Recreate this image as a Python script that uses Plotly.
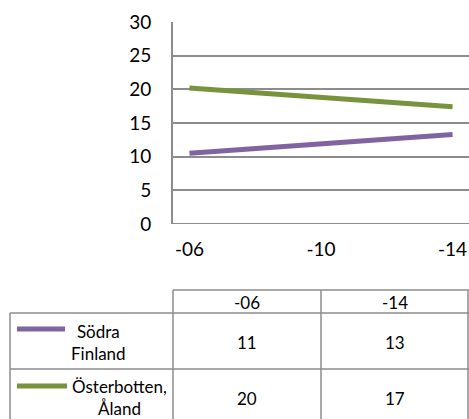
import plotly.graph_objects as go

years = [6, 14]
year_labels = ["-06", "-14"]
tick_vals = [6, 10, 14]
tick_text = ["-06", "-10", "-14"]
sodra = [10.5, 13.3]
oster = [20.2, 17.4]
sodra_table = ["11", "13"]
oster_table = ["20", "17"]
series_names = ["Södra<br>Finland", "Österbotten,<br>Åland"]

PURPLE = "#8064a2"
GREEN = "#77933c"
GRID = "#8c8c8c"
FONT = "Lato"

fig = go.Figure()
fig.add_trace(go.Scatter(x=years, y=sodra, mode="lines", hoverinfo="skip",
                         line=dict(color=PURPLE, width=5), showlegend=False))
fig.add_trace(go.Scatter(x=years, y=oster, mode="lines", hoverinfo="skip",
                         line=dict(color=GREEN, width=5), showlegend=False))

W, H = 469, 419
L = 173
T = 22
R = 0
B = H - 224
pw = W - L - R
ph = H - T - B

def px2paper_x(px):
    return (px - L) / pw

def py2paper_y(py):
    return (H - B - py) / ph

fig.update_layout(
    width=W, height=H,
    margin=dict(l=L, r=R, t=T, b=B, pad=0, autoexpand=False),
    paper_bgcolor="white", plot_bgcolor="white",
    font=dict(family=FONT, color="black"),
    xaxis=dict(range=[5.5, 14.5], tickvals=tick_vals, ticktext=tick_text,
               showgrid=False, zeroline=False, showline=False, automargin=False,
               tickfont=dict(size=19, family=FONT), ticks="",
               ticklabelstandoff=12),
    yaxis=dict(range=[0, 30], dtick=5, showgrid=True, gridcolor=GRID, gridwidth=1.5,
               zeroline=False, showline=True, linecolor=GRID, linewidth=2, automargin=False,
               tickfont=dict(size=19, family=FONT), ticks="",
               ticklabelstandoff=16),
)

shapes = []
shapes.append(dict(type="line", xref="paper", yref="y", x0=0, x1=1, y0=0, y1=0,
                   line=dict(color=GRID, width=2)))

top = 290
hdr = 313
mid = 369
bot = 440
left_tbl = 10
line_style = dict(color=GRID, width=1.5)

def hline(py, x0px, x1px):
    shapes.append(dict(type="line", xref="paper", yref="paper",
                       x0=px2paper_x(x0px), x1=px2paper_x(x1px),
                       y0=py2paper_y(py), y1=py2paper_y(py), line=line_style))

def vline(px, y0py, y1py):
    shapes.append(dict(type="line", xref="paper", yref="paper",
                       x0=px2paper_x(px), x1=px2paper_x(px),
                       y0=py2paper_y(y0py), y1=py2paper_y(y1py), line=line_style))

hline(top, 173, 469)
hline(hdr, left_tbl, 469)
hline(mid, left_tbl, 469)
vline(left_tbl, hdr, bot)
vline(173, top, bot)
vline(321, top, bot)
vline(468, top, bot)

for color, py, x1 in [(PURPLE, 329, 65), (GREEN, 386, 67)]:
    shapes.append(dict(type="line", xref="paper", yref="paper",
                       x0=px2paper_x(17), x1=px2paper_x(x1),
                       y0=py2paper_y(py), y1=py2paper_y(py),
                       line=dict(color=color, width=5)))
fig.update_layout(shapes=shapes)

ann = []
col_centers = [247, 395]

def add_text(cx, cy, text):
    ann.append(dict(x=px2paper_x(cx), y=py2paper_y(cy), xref="paper", yref="paper",
                    xanchor="center", yanchor="middle", align="center",
                    text=text, showarrow=False, font=dict(size=17, family=FONT)))

for cx, lab in zip(col_centers, year_labels):
    add_text(cx, 302, lab)
for row_y, vals in [(342, sodra_table), (398, oster_table)]:
    for cx, v in zip(col_centers, vals):
        add_text(cx, row_y, v)
for (cx, cy), name in zip([(98, 342), (119, 397)], series_names):
    add_text(cx, cy, name)
fig.update_layout(annotations=ann)

fig.write_html(
    "out.html",
    config={"displayModeBar": False},
    post_script="document.body.style.margin='0';document.body.style.overflow='hidden';",
)
